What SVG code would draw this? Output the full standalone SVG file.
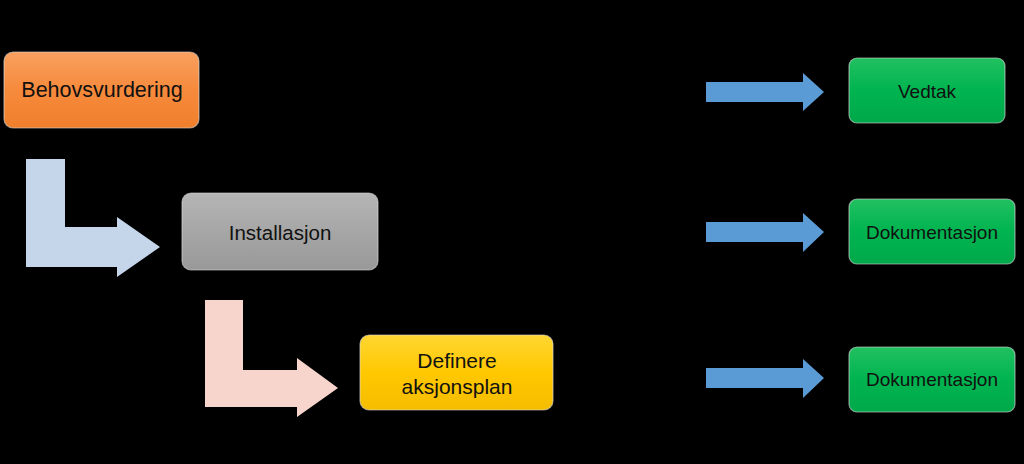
<svg xmlns="http://www.w3.org/2000/svg" width="1024" height="464" viewBox="0 0 1024 464">
<style>
.box{stroke:#d9d9d9;stroke-opacity:0.6;stroke-width:1.2}
.t{font-family:"Liberation Sans",Arial,sans-serif;fill:#111;text-anchor:middle;dominant-baseline:central}
</style>
<defs>
<linearGradient id="gOr" x1="0" y1="0" x2="0" y2="1"><stop offset="0" stop-color="#f9a060"/><stop offset="0.5" stop-color="#f68a3c"/><stop offset="1" stop-color="#f07f2c"/></linearGradient>
<linearGradient id="gGr" x1="0" y1="0" x2="0" y2="1"><stop offset="0" stop-color="#b6b6b6"/><stop offset="0.5" stop-color="#a6a6a6"/><stop offset="1" stop-color="#999"/></linearGradient>
<linearGradient id="gYe" x1="0" y1="0" x2="0" y2="1"><stop offset="0" stop-color="#ffd633"/><stop offset="0.5" stop-color="#ffc800"/><stop offset="1" stop-color="#f5bd00"/></linearGradient>
<linearGradient id="gGn" x1="0" y1="0" x2="0" y2="1"><stop offset="0" stop-color="#22c060"/><stop offset="0.5" stop-color="#00b450"/><stop offset="1" stop-color="#00a84a"/></linearGradient>
</defs>
<rect width="1024" height="464" fill="#000"/>
<g id="connectors">
<path d="M26 159 H65 V227 H117 V217 L160 247 L117 277 V267 H26 Z" fill="#c5d5ea"/>
<path d="M205 300 H243 V370 H297 V358 L338 388 L297 417 V407 H205 Z" fill="#f8d5cc"/>
<path d="M706 82 H803 V73 L824 92 L803 111 V102 H706 Z" fill="#5b9bd5"/>
<path d="M706 222 H803 V213 L824 232 L803 252 V242 H706 Z" fill="#5b9bd5"/>
<path d="M706 368 H803 V359 L824 378 L803 398 V388 H706 Z" fill="#5b9bd5"/>
</g>
<g id="behovsvurdering">
<rect class="box" x="4" y="52" width="195" height="76" rx="9" fill="url(#gOr)"/>
<text class="t" x="102" y="90" font-size="21.5">Behovsvurdering</text>
</g>
<g id="installasjon">
<rect class="box" x="182" y="193" width="196" height="77" rx="9" fill="url(#gGr)"/>
<text class="t" x="280" y="232" font-size="20.5">Installasjon</text>
</g>
<g id="aksjonsplan">
<rect class="box" x="360" y="335" width="193" height="75" rx="9" fill="url(#gYe)"/>
<text class="t" x="457" y="360" font-size="21">Definere</text>
<text class="t" x="457" y="386" font-size="21">aksjonsplan</text>
</g>
<g id="vedtak">
<rect class="box" x="849" y="58" width="156" height="65" rx="8" fill="url(#gGn)"/>
<text class="t" x="927" y="91" font-size="19">Vedtak</text>
</g>
<g id="dokumentasjon1">
<rect class="box" x="849" y="199" width="166" height="65" rx="8" fill="url(#gGn)"/>
<text class="t" x="932" y="232" font-size="19">Dokumentasjon</text>
</g>
<g id="dokumentasjon2">
<rect class="box" x="849" y="347" width="166" height="65" rx="8" fill="url(#gGn)"/>
<text class="t" x="932" y="379" font-size="19">Dokumentasjon</text>
</g>
</svg>
